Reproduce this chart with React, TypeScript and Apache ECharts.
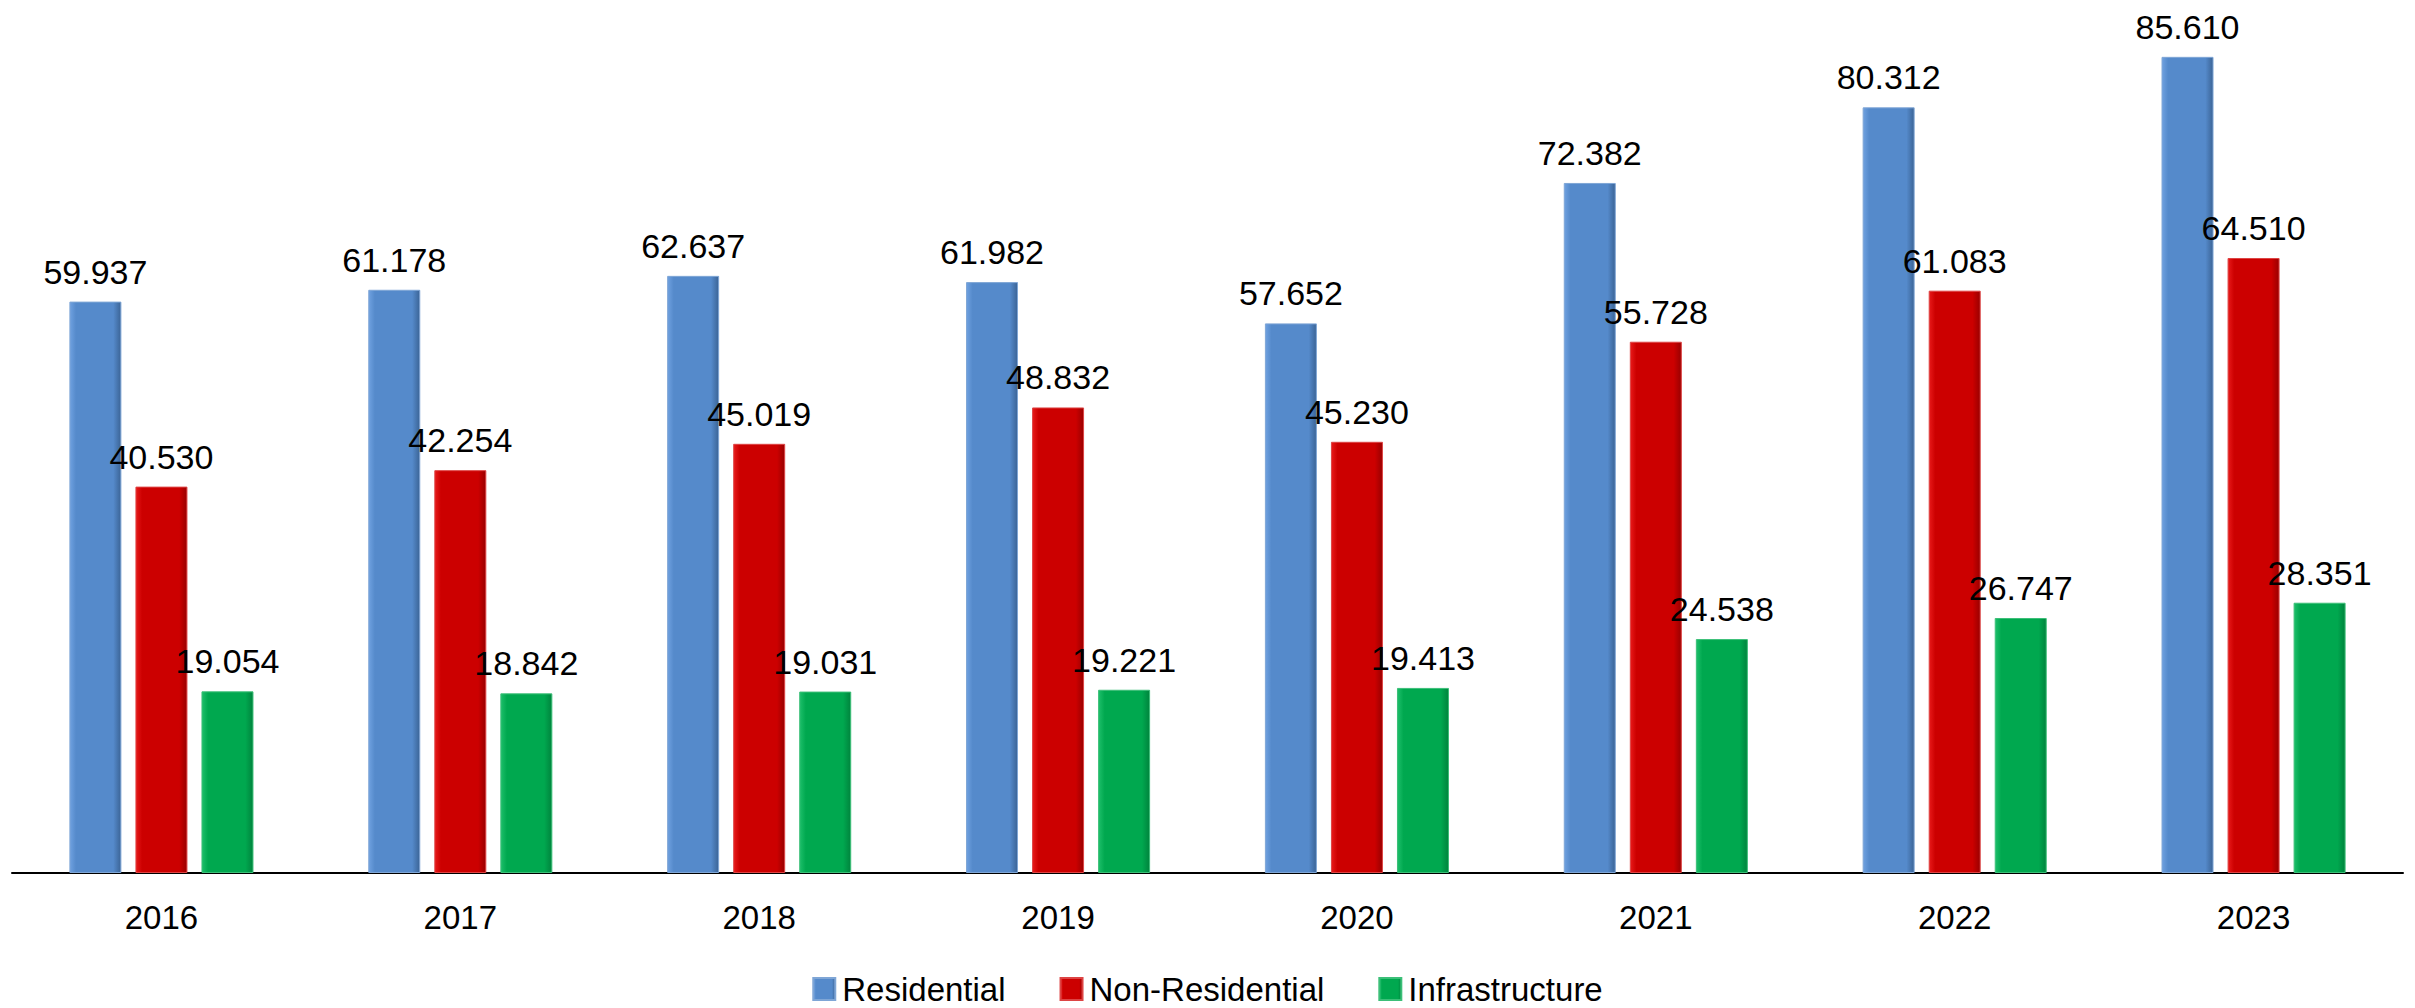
import React, { useEffect, useRef } from "react";
import * as echarts from "echarts";

const years = ["2016", "2017", "2018", "2019", "2020", "2021", "2022", "2023"];
const residential = [59.937, 61.178, 62.637, 61.982, 57.652, 72.382, 80.312, 85.61];
const nonResidential = [40.53, 42.254, 45.019, 48.832, 45.23, 55.728, 61.083, 64.51];
const infrastructure = [19.054, 18.842, 19.031, 19.221, 19.413, 24.538, 26.747, 28.351];

const FONT = "'Liberation Sans', Arial, sans-serif";

function grad(light: string, main: string, dark: string) {
  return new echarts.graphic.LinearGradient(0, 0, 1, 0, [
    { offset: 0, color: light },
    { offset: 0.12, color: main },
    { offset: 0.85, color: main },
    { offset: 1, color: dark },
  ]);
}

export default function App() {
  const ref = useRef<HTMLDivElement>(null);
  useEffect(() => {
    if (!ref.current) return;
    const chart = echarts.init(ref.current, undefined, { renderer: "svg" });
    const mk = (name: string, data: number[], light: string, main: string, dark: string, border: string) => ({
      name,
      type: "bar",
      data,
      barWidth: 52,
      barGap: "27%",
      itemStyle: { color: grad(light, main, dark), borderColor: border, borderWidth: 1 },
      label: {
        show: true,
        position: "top",
        distance: 13,
        formatter: (p: any) => Number(p.value).toFixed(3),
        fontFamily: FONT,
        fontSize: 34,
        color: "#000",
      },
    });
    chart.setOption({
      animation: false,
      backgroundColor: "#fff",
      grid: { left: 12, right: 12, top: 15, bottom: 135, containLabel: false },
      legend: {
        top: 972,
        left: "center",
        padding: 0,
        itemWidth: 22,
        itemHeight: 22,
        itemGap: 54,
        icon: "rect",
        textStyle: { fontFamily: FONT, fontSize: 33, lineHeight: 34, color: "#000", padding: [0, 0, 0, 2] },
        data: ["Residential", "Non-Residential", "Infrastructure"],
      },
      xAxis: {
        type: "category",
        data: years,
        axisTick: { show: false },
        axisLine: { lineStyle: { color: "#000", width: 2 } },
        axisLabel: { fontFamily: FONT, fontSize: 33, color: "#000", margin: 28 },
      },
      yAxis: {
        type: "value",
        min: 0,
        max: 90,
        show: false,
        splitLine: { show: false },
      },
      series: [
        mk("Residential", residential, "#6fa1e0", "#558acb", "#3b6496", "#7fa6d6"),
        mk("Non-Residential", nonResidential, "#e81a1a", "#cc0000", "#990000", "#d44"),
        mk("Infrastructure", infrastructure, "#1dbf6a", "#00a84f", "#00843d", "#3cbf78"),
      ],
    });
    return () => chart.dispose();
  }, []);
  return (
    <div
      ref={ref}
      style={{ position: "absolute", left: 0, top: 0, width: 2415, height: 1008 }}
    />
  );
}
